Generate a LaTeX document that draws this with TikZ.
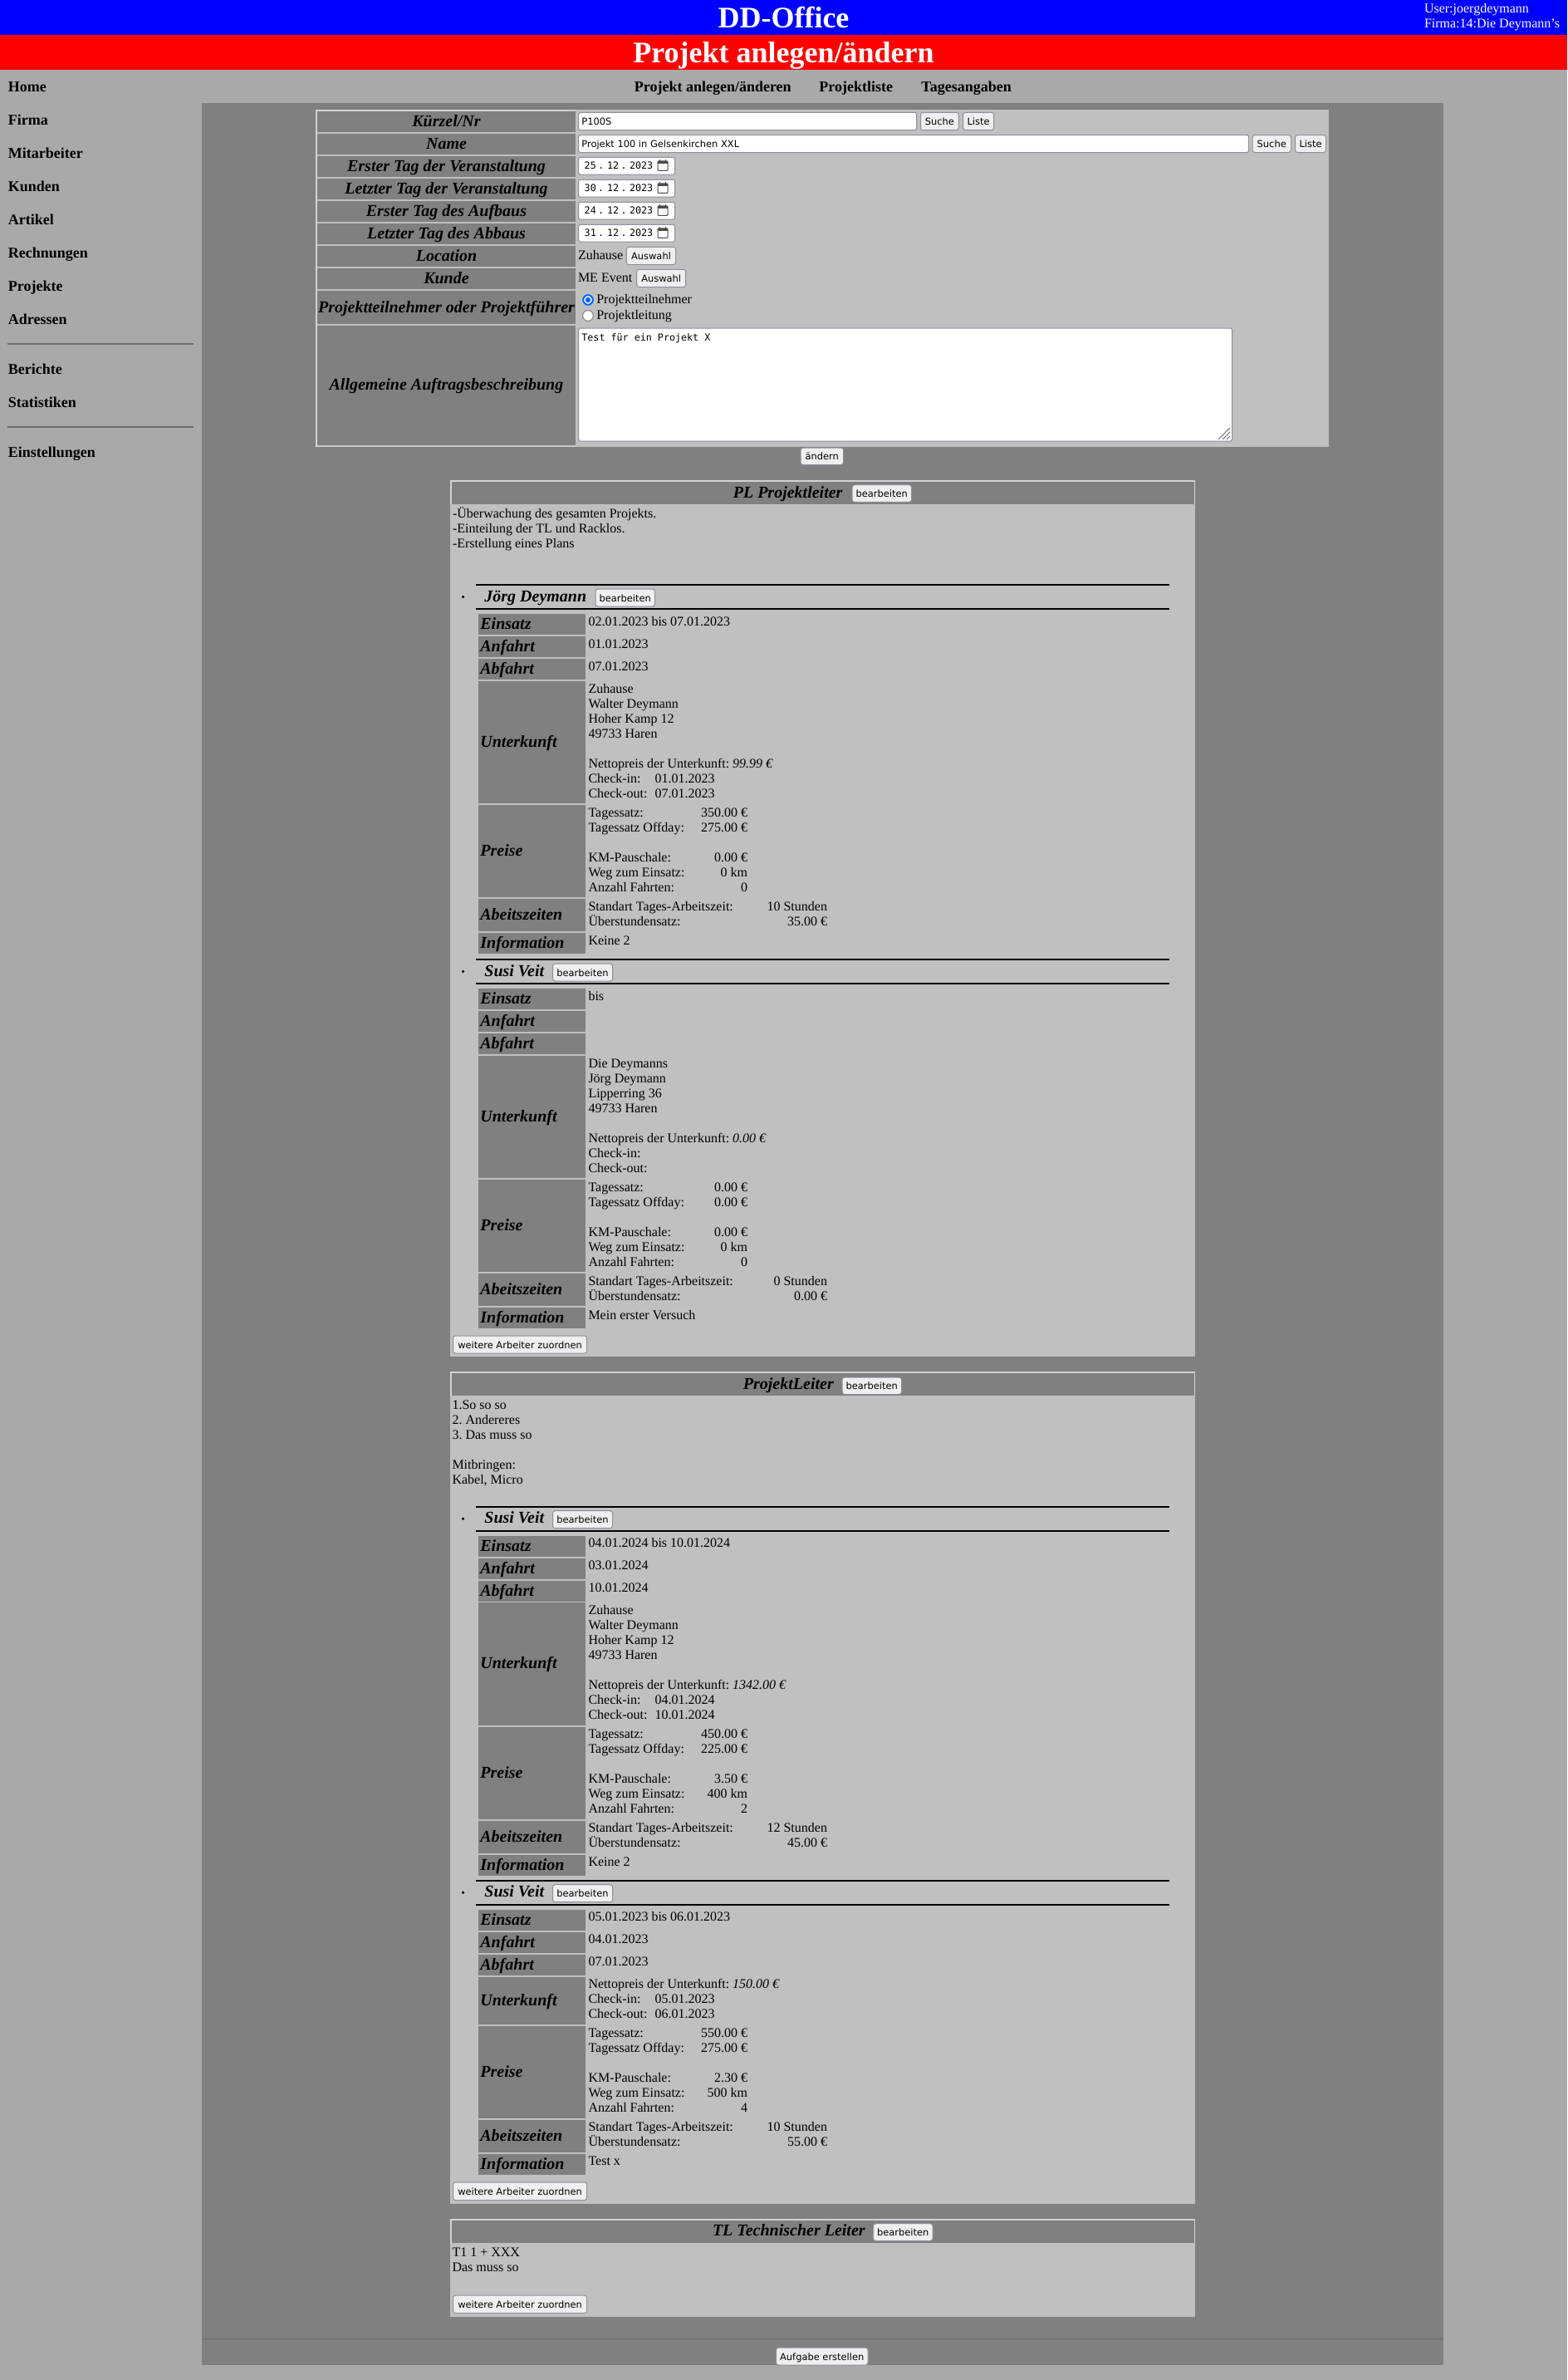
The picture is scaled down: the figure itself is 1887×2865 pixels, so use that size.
\documentclass[tikz,border=0pt]{standalone}
\usepackage{fontspec}
\setmainfont{Liberation Serif}
\newfontfamily\btnf{DejaVu Sans}
\newfontfamily\monof{DejaVu Sans Mono}
\frenchspacing
\definecolor{pagebg}{HTML}{A9A9A9}
\definecolor{mainbg}{HTML}{808080}
\definecolor{panelbg}{HTML}{C0C0C0}
\definecolor{edgecol}{HTML}{D3D3D3}
\definecolor{btnbg}{HTML}{EFEFEF}
\definecolor{btnedge}{HTML}{8F8F9D}
\definecolor{hrcol}{HTML}{6E6E6E}
\newcount\nn
\def\nid{n\the\nn}
\newcommand\nd{\global\advance\nn by 1\relax\node}
\tikzset{
  x=0.5pt,y=-0.5pt,
  txt/.style={inner sep=0pt,outer sep=0pt,anchor=base west,font=\fontsize{8}{9}\selectfont},
  txtr/.style={txt,anchor=base east},
  labcell/.style={inner sep=0pt,anchor=base,font=\fontsize{10}{12}\selectfont\bfseries\itshape},
  labl/.style={labcell,anchor=base west},
  navt/.style={inner sep=0pt,anchor=base west,font=\fontsize{9}{10}\selectfont\bfseries},
  btnt/.style={inner sep=0pt,anchor=base,font=\fontsize{5.72}{7}\btnf\selectfont},
  inpt/.style={inner sep=0pt,anchor=base west,font=\fontsize{5.72}{7}\btnf\selectfont},
  mono/.style={inner sep=0pt,anchor=base west,font=\fontsize{5.85}{7}\monof\selectfont},
  btnbox/.style={fill=btnbg,draw=btnedge,line width=0.5pt,rounded corners=1.5pt},
  inbox/.style={fill=white,draw=btnedge,line width=0.5pt,rounded corners=0.8pt},
  heavy/.style={draw=black,line width=1pt},
}
% plain text, y = optical centre of the line
\newcommand\tx[3]{\nd[txt,yshift=-2pt] (\nid) at (#1,#2) {#3};}
\newcommand\txr[3]{\nd[txtr,yshift=-2pt] (\nid) at (#1,#2) {#3};}
% grey cell
\newcommand\cell[4]{\fill[mainbg] (#1,#2) rectangle (#3,#4);}
% button: x0 y0 x1 y1 text
\newcommand\btn[5]{\draw[btnbox] (#1,#2) rectangle (#3,#4);
  \path (#1,#2) -- coordinate (btnc) (#3,#4);
  \nd[btnt,yshift=-2.3pt] (\nid) at (btnc) {#5};}
% left cell with label
\newcommand\lab[3]{\cell{576}{#1}{705}{#2}
  \path (576,#1) -- coordinate (labc) (576,#2);
  \nd[labl,xshift=1pt,yshift=-3pt] (\nid) at (labc) {#3};}
% worker heading
\newcommand\head[3]{
  \draw[heavy] (573,0) -- (1408,0);
  \draw[heavy] (573,29) -- (1408,29);
  \fill[black] (557.6,14.5) circle (0.9pt);
  \nd[labl,yshift=-2.5pt] (\nid) at (583,15) {#1};
  \btn{#2}{5}{#3}{26}{bearbeiten}
}
\newcommand\toprows[3]{
  \lab{35}{60}{Einsatz}\tx{708.5}{45}{#1}
  \lab{62}{87}{Anfahrt}\tx{708.5}{72}{#2}
  \lab{89}{114}{Abfahrt}\tx{708.5}{99}{#3}
}
\newcommand\ukfull[7]{
  \lab{115.5}{263}{Unterkunft}
  \tx{708.5}{126}{#1}\tx{708.5}{144}{#2}\tx{708.5}{162}{#3}\tx{708.5}{180}{#4}
  \tx{708.5}{216}{Nettopreis der Unterkunft: \textit{#5 €}}
  \tx{708.5}{234}{Check-in:}\tx{788.5}{234}{#6}
  \tx{708.5}{252}{Check-out:}\tx{788.5}{252}{#7}
}
\newcommand\ukshort[3]{
  \lab{116}{173}{Unterkunft}
  \tx{708.5}{126}{Nettopreis der Unterkunft: \textit{#1 €}}
  \tx{708.5}{144}{Check-in:}\tx{788.5}{144}{#2}
  \tx{708.5}{162}{Check-out:}\tx{788.5}{162}{#3}
}
\newcommand\rest[9]{
  \begin{scope}[shift={(0,#1)}]
  \lab{0}{111}{Preise}
  \tx{708.5}{10}{Tagessatz:}\txr{900}{10}{#2}
  \tx{708.5}{28}{Tagessatz Offday:}\txr{900}{28}{#3}
  \tx{708.5}{64}{KM-Pauschale:}\txr{900}{64}{#4}
  \tx{708.5}{82}{Weg zum Einsatz:}\txr{900}{82}{#5}
  \tx{708.5}{100}{Anzahl Fahrten:}\txr{900}{100}{#6}
  \lab{113}{152}{Abeitszeiten}
  \tx{708.5}{123}{Standart Tages-Arbeitszeit:}\txr{996}{123}{#7}
  \tx{708.5}{141}{Überstundensatz:}\txr{996}{141}{#8}
  \lab{154}{179}{Information}
  \tx{708.5}{164}{#9}
  \end{scope}
}
% date field: y, day, month, year
\newcommand\datef[4]{
  \draw[inbox] (696.7,#1) rectangle (812.5,#1+20.8);
  \nd[mono,yshift=-2pt] (\nid) at (703.3,#1+10.5) {#2};
  \nd[mono,yshift=-2pt] (\nid) at (719.8,#1+10.5) {.};
  \nd[mono,yshift=-2pt] (\nid) at (730.7,#1+10.5) {#3};
  \nd[mono,yshift=-2pt] (\nid) at (747.2,#1+10.5) {.};
  \nd[mono,yshift=-2pt] (\nid) at (757.7,#1+10.5) {#4};
  \draw[line width=0.5pt,draw=black!70,rounded corners=0.5pt] (792,#1+4.5) rectangle (804,#1+16);
  \fill[black!70] (792,#1+4.5) rectangle (804,#1+7.5);
  \fill[black!70] (794,#1+2.8) rectangle (795.2,#1+5);
  \fill[black!70] (800.8,#1+2.8) rectangle (802,#1+5);
}
% form row
\newcommand\frow[3]{\cell{382}{#1}{693}{#2}
  \path (537.5,#1) -- coordinate (frc) (537.5,#2);
  \nd[labcell,yshift=-3pt] (\nid) at (frc) {#3};}
\newcommand\panelhead[1]{\fill[edgecol] (542,#1) rectangle (1439,#1+28.5);
  \fill[mainbg] (544,#1+2) rectangle (1437.5,#1+28.5);}
\begin{document}
\begin{tikzpicture}
\useasboundingbox (0,0) rectangle (1887,2865);
\fill[pagebg] (0,0) rectangle (1887,2865);
% banners
\fill[blue] (0,0) rectangle (1887,42);
\fill[red] (0,42) rectangle (1887,84);
\node[inner sep=0pt,anchor=base,text=white,font=\fontsize{18}{20}\selectfont\bfseries] (title) at (943.5,33) {DD-Office};
\node[inner sep=0pt,anchor=base,text=white,font=\fontsize{18}{20}\selectfont\bfseries] (subtitle) at (943.5,75) {Projekt anlegen/ändern};
\node[txt,text=white,yshift=-2pt] (user) at (1715,11.5) {User:joergdeymann};
\node[txt,text=white,yshift=-2pt] (firm) at (1715,29.5) {Firma:14:Die Deymann's};
% left menu
\foreach \yy/\tt in {104.5/Home,144.5/Firma,184.5/Mitarbeiter,224.5/Kunden,264.5/Artikel,304.5/Rechnungen,344.5/Projekte,384.5/Adressen,444.5/Berichte,484.5/Statistiken,544.5/Einstellungen}{
  \nd[navt,yshift=-3pt] (\nid) at (9.5,\yy) {\tt};
}
\fill[hrcol] (9,412.8) rectangle (233,414.8);
\fill[hrcol] (9,513.3) rectangle (233,515.3);
% top menu
\node[navt,yshift=-3pt] (m1) at (763.5,104.5) {Projekt anlegen/änderen};
\node[navt,yshift=-3pt] (m2) at (986,104.5) {Projektliste};
\node[navt,yshift=-3pt] (m3) at (1109,104.5) {Tagesangaben};
% main area
\fill[mainbg] (243,124) rectangle (1738,2847);
% form
\fill[panelbg] (380,132) rectangle (1600,538);
\fill[edgecol] (380,132) rectangle (693,133.6);
\fill[edgecol] (380,132) rectangle (382,538);
\fill[edgecol] (380,536.5) rectangle (693,538);
\frow{133.6}{159}{Kürzel/Nr}
\frow{160.7}{186}{Name}
\frow{187.5}{213}{Erster Tag der Veranstaltung}
\frow{214.7}{240}{Letzter Tag der Veranstaltung}
\frow{241.5}{267}{Erster Tag des Aufbaus}
\frow{268.7}{294}{Letzter Tag des Abbaus}
\frow{296}{321}{Location}
\frow{322.6}{348}{Kunde}
\frow{350}{390}{Projektteilnehmer oder Projektführer}
\frow{391.5}{536}{Allgemeine Auftragsbeschreibung}
\draw[inbox] (696.7,135.3) rectangle (1103.6,156.7);
\nd[inpt,yshift=-2pt] (\nid) at (700,146.7) {P100S};
\btn{1108.5}{135.3}{1154.4}{156.7}{Suche}
\btn{1159.6}{135.3}{1196.6}{156.7}{Liste}
\draw[inbox] (696.7,162.5) rectangle (1503.4,183.5);
\nd[inpt,yshift=-2pt] (\nid) at (700,173.3) {Projekt 100 in Gelsenkirchen XXL};
\btn{1508}{162.5}{1554.5}{183.5}{Suche}
\btn{1559.5}{162.5}{1596.6}{183.5}{Liste}
\datef{189.3}{25}{12}{2023}
\datef{216.4}{30}{12}{2023}
\datef{243.3}{24}{12}{2023}
\datef{270.3}{31}{12}{2023}
\tx{696}{308}{Zuhause}
\btn{754.3}{297.3}{813.7}{318.7}{Auswahl}
\tx{696}{335}{ME Event}
\btn{766.7}{324.3}{825.7}{345.7}{Auswahl}
\fill[white] (708,361) circle (3.2pt);
\draw[blue!60!cyan,line width=1pt] (708,361) circle (2.9pt);
\fill[blue!60!cyan] (708,361) circle (1.6pt);
\tx{718.3}{361}{Projektteilnehmer}
\fill[white] (708,380) circle (3.2pt);
\draw[btnedge,line width=0.6pt] (708,380) circle (3.2pt);
\tx{718.3}{380}{Projektleitung}
\draw[inbox] (696.7,395) rectangle (1483.5,531);
\nd[mono,yshift=-2pt] (\nid) at (700,406) {Test für ein Projekt X};
\draw[black!60,line width=0.4pt] (1467,529) -- (1481,515) (1472,529) -- (1481,520) (1477,529) -- (1481,525);
\btn{964}{539}{1015.5}{559.5}{ändern}
% panel 1
\fill[panelbg] (542,578) rectangle (1439,1633);
\panelhead{578}
\node[labl,yshift=-3pt] (p1t) at (882.4,593) {PL Projektleiter};
\btn{1026}{583.7}{1097.6}{604.4}{bearbeiten}
\tx{545}{619.3}{-Überwachung des gesamten Projekts.}
\tx{545}{637.3}{-Einteilung der TL und Racklos.}
\tx{545}{655.3}{-Erstellung eines Plans}
\begin{scope}[shift={(0,704)}]
\head{Jörg Deymann}{717}{788.5}
\toprows{02.01.2023 bis 07.01.2023}{01.01.2023}{07.01.2023}
\ukfull{Zuhause}{Walter Deymann}{Hoher Kamp 12}{49733 Haren}{99.99}{01.01.2023}{07.01.2023}
\rest{265}{350.00 €}{275.00 €}{0.00 €}{0 km}{0}{10 Stunden}{35.00 €}{Keine 2}
\end{scope}
\begin{scope}[shift={(0,1155)}]
\head{Susi Veit}{665.5}{737.6}
\toprows{bis}{}{}
\ukfull{Die Deymanns}{Jörg Deymann}{Lipperring 36}{49733 Haren}{0.00}{}{}
\rest{265}{0.00 €}{0.00 €}{0.00 €}{0 km}{0}{0 Stunden}{0.00 €}{Mein erster Versuch}
\end{scope}
\btn{545.5}{1608}{706.7}{1629}{weitere Arbeiter zuordnen}
% panel 2
\fill[panelbg] (542,1651) rectangle (1439,2653);
\panelhead{1651}
\node[labl,yshift=-3pt] (p2t) at (894.5,1666.6) {ProjektLeiter};
\btn{1014}{1658}{1085.5}{1678.5}{bearbeiten}
\tx{544.5}{1692}{1.So so so}
\tx{544.5}{1710}{2. Andereres}
\tx{544.5}{1728}{3. Das muss so}
\tx{544.5}{1764}{Mitbringen:}
\tx{544.5}{1782}{Kabel, Micro}
\begin{scope}[shift={(0,1813.7)}]
\head{Susi Veit}{665.5}{737.6}
\toprows{04.01.2024 bis 10.01.2024}{03.01.2024}{10.01.2024}
\ukfull{Zuhause}{Walter Deymann}{Hoher Kamp 12}{49733 Haren}{1342.00}{04.01.2024}{10.01.2024}
\rest{265}{450.00 €}{225.00 €}{3.50 €}{400 km}{2}{12 Stunden}{45.00 €}{Keine 2}
\end{scope}
\begin{scope}[shift={(0,2263.7)}]
\head{Susi Veit}{665.5}{737.6}
\toprows{05.01.2023 bis 06.01.2023}{04.01.2023}{07.01.2023}
\ukshort{150.00}{05.01.2023}{06.01.2023}
\rest{175}{550.00 €}{275.00 €}{2.30 €}{500 km}{4}{10 Stunden}{55.00 €}{Test x}
\end{scope}
\btn{545.5}{2627}{706.7}{2648.5}{weitere Arbeiter zuordnen}
% panel 3
\fill[panelbg] (542,2671) rectangle (1439,2789);
\panelhead{2671}
\node[labl,yshift=-3pt] (p3t) at (857.6,2685.7) {TL Technischer Leiter};
\btn{1051.5}{2676.7}{1123}{2697.5}{bearbeiten}
\tx{544.5}{2712}{T1 1 + XXX}
\tx{544.5}{2730}{Das muss so}
\btn{545.5}{2763}{706.7}{2784.5}{weitere Arbeiter zuordnen}
% bottom
\fill[hrcol] (243,2815) rectangle (1738,2816);
\btn{934.5}{2826}{1045}{2847}{Aufgabe erstellen}
\end{tikzpicture}
\end{document}
